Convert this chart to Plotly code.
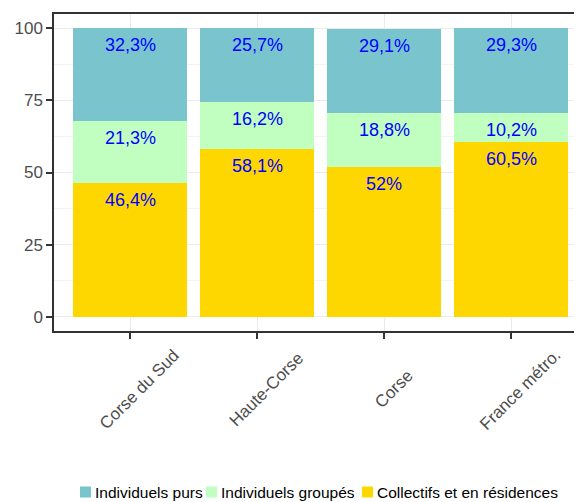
import plotly.graph_objects as go

categories = ["Corse du Sud", "Haute-Corse", "Corse", "France métro."]
series_names = ["Collectifs et en résidences", "Individuels groupés", "Individuels purs"]
collectifs = [46.4, 58.1, 52.0, 60.5]
groupes = [21.3, 16.2, 18.8, 10.2]
purs = [32.3, 25.7, 29.1, 29.3]
colors = ["#FFD700", "#C1FFC1", "#7AC5CD"]
y_ticks = [0, 25, 50, 75, 100]

FONT = "Liberation Sans, Arial, sans-serif"

# layout geometry (figure px)
FIG_W, FIG_H = 574, 494
ML, MR, MT, MB = 46, 0, 6, 171
PLOT_W = FIG_W - ML - MR
PLOT_H = FIG_H - MT - MB


def px_to_paper_x(px):
    return (px - ML) / PLOT_W


def px_to_paper_y(py):
    return (FIG_H - MB - py) / PLOT_H


def fmt(v):
    return f"{v:g}".replace(".", ",") + "%"


fig = go.Figure()
series = [collectifs, groupes, purs]
for name, vals, col in zip(series_names, series, colors):
    fig.add_trace(go.Bar(
        x=categories, y=vals, name=name, marker=dict(color=col, line=dict(width=0)),
        width=0.9, hoverinfo="skip", showlegend=False,
    ))

# labels at top of each segment
cum = [0.0] * len(categories)
for vals in series:
    for i, v in enumerate(vals):
        cum[i] += v
        fig.add_annotation(
            x=categories[i], y=cum[i], text=fmt(v), showarrow=False,
            yanchor="top", yshift=-5, xanchor="center",
            font=dict(family=FONT, size=18, color="#0000FF"),
        )

# x-axis category labels, rotated 45° and centred (ggplot hjust/vjust = 0.5)
for c in categories:
    fig.add_annotation(
        x=c, xref="x", y=px_to_paper_y(381), yref="paper",
        text=c, showarrow=False, textangle=-45, xshift=9,
        xanchor="center", yanchor="middle",
        font=dict(family=FONT, size=17, color="#4D4D4D"),
    )

# manual legend (bottom, keys touching labels like ggplot)
legend_items = list(zip(series_names[::-1], colors[::-1]))
legend_key_left = [72, 198, 354]  # figure px
KEY = 11
LEG_Y = 484  # figure px, vertical centre
for (name, col), kx in zip(legend_items, legend_key_left):
    fig.add_shape(
        type="rect", xref="paper", yref="paper",
        x0=px_to_paper_x(kx), x1=px_to_paper_x(kx + KEY),
        y0=px_to_paper_y(LEG_Y + KEY / 2), y1=px_to_paper_y(LEG_Y - KEY / 2),
        fillcolor=col, line=dict(width=0),
    )
    fig.add_annotation(
        xref="paper", yref="paper", x=px_to_paper_x(kx + KEY + 2), y=px_to_paper_y(LEG_Y),
        text=name, showarrow=False, xanchor="left", yanchor="middle",
        font=dict(family=FONT, size=15.5, color="#000000"),
    )

fig.update_layout(
    width=FIG_W, height=FIG_H,
    margin=dict(l=ML, r=MR, t=MT, b=MB),
    paper_bgcolor="white", plot_bgcolor="white",
    barmode="stack", bargap=0.1,
    font=dict(family=FONT, color="#4D4D4D"),
    showlegend=False,
)
fig.update_xaxes(
    type="category", range=[-0.6, 3.557],
    showgrid=True, gridcolor="#EBEBEB", gridwidth=1,
    showline=True, linecolor="#333333", linewidth=1.5, mirror=True,
    ticks="outside", ticklen=6, tickwidth=1.5, tickcolor="#333333",
    showticklabels=False,
    zeroline=False,
)
fig.update_yaxes(
    range=[-5, 105], tickvals=y_ticks,
    showgrid=True, gridcolor="#EBEBEB", gridwidth=1.2,
    minor=dict(dtick=12.5, tick0=12.5, showgrid=True, gridcolor="#F3F3F3", gridwidth=0.6),
    showline=True, linecolor="#333333", linewidth=1.5, mirror=False,
    ticks="outside", ticklen=6, tickwidth=1.5, tickcolor="#333333",
    tickfont=dict(family=FONT, size=17, color="#4D4D4D"),
    zeroline=False,
)

fig.write_html("out.html")
